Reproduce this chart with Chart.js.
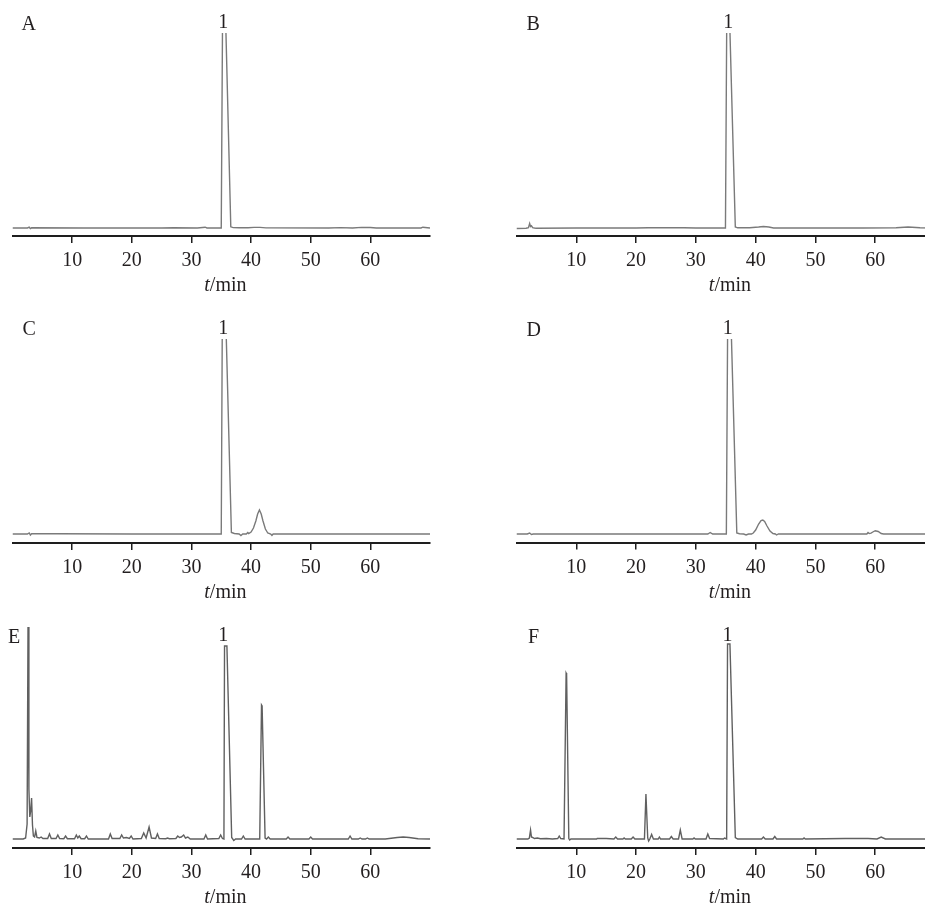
<!DOCTYPE html>
<html>
<head>
<meta charset="utf-8">
<script src="https://cdn.jsdelivr.net/npm/chart.js@4/dist/chart.umd.min.js"></script>
<style>
html, body { margin: 0; padding: 0; background: #fff; overflow: hidden; }
body { width: 925px; height: 904px; position: relative; }
canvas { position: absolute; }
</style>
</head>
<body>
<canvas id="cA"></canvas>
<canvas id="cB"></canvas>
<canvas id="cC"></canvas>
<canvas id="cD"></canvas>
<canvas id="cE"></canvas>
<canvas id="cF"></canvas>
<script>
// chromatogram traces, t in min, signal in arbitrary units (baseline = 0)
const panelIds = ['A', 'B', 'C', 'D', 'E', 'F'];
const peakLabels = ['1', '1', '1', '1', '1', '1'];
const peakLabelTimes = [35.35, 35.4, 35.35, 35.35, 35.35, 35.3];
const tickValues = [10, 20, 30, 40, 50, 60];

const timeA = [0, 2.5, 2.8, 3.0, 3.2, 12, 25, 27, 31, 32.3, 32.6, 35.0, 35.25, 35.6, 36.6, 37.0, 38.0, 39.5, 40.5, 41.5, 42.5, 53, 55, 57, 58.5, 60, 61, 68.5, 68.8, 70];
const signalA = [0, 0, 0.8, -0.6, 0.2, 0, 0, 0.3, 0, 0.8, 0, 0, 240, 240, 1.2, 0.4, 0.2, 0.3, 0.6, 0.6, 0.1, 0, 0.4, 0, 0.6, 0.5, 0, 0, 0.8, 0];

const timeB = [0, 1.6, 2.0, 2.2, 2.35, 2.5, 2.7, 3.0, 3.3, 10, 20, 22, 25, 28, 30, 34.95, 35.2, 35.5, 36.6, 37.0, 39.0, 40.5, 41.3, 42.2, 43.0, 58, 63.5, 65.5, 67.5, 70];
const signalB = [-0.5, -0.3, 0.3, 4.5, 1.5, 2.2, 0.4, 0, -0.3, 0, 0, 0.3, 0.2, 0.3, 0, 0, 240, 240, 1, 0.2, 0.3, 1, 1.5, 1, 0, 0, 0.2, 1, 0.2, 0];

const timeC = [0, 2.5, 2.8, 3.0, 3.2, 7.5, 20, 30, 34.9, 35.0, 35.2, 35.65, 36.7, 37.2, 38.0, 38.3, 38.6, 39.2, 39.45, 39.6, 40.0, 40.4, 40.8, 41.1, 41.4, 41.7, 42.0, 42.4, 42.8, 43.3, 43.5, 43.7, 50, 60, 70];
const signalC = [0, 0, 1, -1, 0.3, 0.3, 0, 0, 0, 0, 240, 240, 1.5, 0.5, 0, -1.5, 0, 0, 1.5, 0.5, 2, 6, 13, 20, 24, 20, 13, 5, 1, 0, -1.5, 0, 0, 0, 0];

const timeD = [0, 1.8, 2.2, 2.5, 2.8, 10, 20, 32.0, 32.4, 32.8, 35.1, 35.35, 35.75, 36.85, 37.3, 38.0, 38.4, 38.8, 39.3, 39.6, 40.0, 40.5, 40.9, 41.2, 41.5, 41.9, 42.4, 42.9, 43.3, 43.5, 43.8, 58.6, 58.8, 59.0, 59.3, 59.6, 60.0, 60.5, 61.0, 61.4, 70];
const signalD = [0, 0, 1, -0.5, 0, 0, 0, 0, 1.5, 0, 0, 240, 240, 1, 0.3, 0, -1, 0, 0, 1, 4, 10, 13.5, 14, 12.5, 8, 3, 0.5, 0, -1, 0, 0, 1.5, 0.5, 0.8, 2, 3.3, 2.5, 0.5, 0, 0];

const timeE = [0, 1.8, 2.2, 2.45, 2.6, 2.75, 2.9, 3.05, 3.2, 3.35, 3.5, 3.7, 3.9, 4.1, 4.5, 4.8, 5.1, 5.9, 6.2, 6.5, 7.3, 7.6, 7.9, 8.6, 8.9, 9.2, 10.4, 10.7, 10.95, 11.2, 11.5, 12.1, 12.4, 12.7, 16.1, 16.4, 16.7, 18.0, 18.3, 18.6, 19.1, 19.6, 19.9, 20.2, 21.6, 22.0, 22.4, 22.9, 23.3, 24.0, 24.3, 24.6, 25.7, 26.0, 26.3, 27.4, 27.7, 28.0, 28.3, 28.7, 29.0, 29.4, 29.8, 32.1, 32.4, 32.7, 34.6, 34.9, 35.2, 35.45, 35.55, 35.95, 36.75, 37.1, 37.4, 38.4, 38.7, 39.0, 41.45, 41.75, 41.85, 42.35, 42.6, 42.9, 43.2, 45.9, 46.2, 46.5, 49.7, 50.0, 50.3, 56.3, 56.6, 56.9, 58.0, 58.3, 58.6, 59.2, 59.5, 59.8, 62.5, 64.5, 65.5, 66.5, 68, 70];
const signalE = [0, 0, 1, 15, 212, 50, 22, 28, 41, 14, 3, 2, 8, 1.5, 1, 2, 0.5, 0.5, 5, 0.5, 0.5, 4, 0.5, 0.3, 3, 0.3, 0.3, 4, 1, 3, 0.3, 0.3, 3, 0, 0, 5, 0.5, 0.5, 4, 1, 1.5, 0.5, 3, 0, 0.5, 6, 1, 12, 1, 0.5, 5, 0.5, 0.3, 1, 0.3, 0.5, 3, 1.5, 2, 4, 1, 2, 0, 0, 4, 0, 0.5, 4, 0.5, 0, 193, 193, 1.5, -1.5, 0, 0, 3, 0, 0, 134, 133, 1, 0, 2, 0, 0, 2, 0, 0, 2, 0, 0, 3, 0, 0, 1, 0, 0, 1, 0, 0, 1.5, 2, 1.5, 0.3, 0];

const timeF = [0, 1.9, 2.15, 2.35, 2.5, 2.7, 3.0, 3.5, 4.0, 5.0, 6.0, 6.9, 7.15, 7.4, 7.95, 8.3, 8.38, 8.75, 8.9, 9.1, 13.4, 13.5, 15.0, 16.3, 16.6, 16.9, 17.8, 18.0, 18.2, 19.2, 19.5, 19.8, 21.4, 21.65, 21.95, 22.1, 22.3, 22.6, 22.9, 23.7, 23.9, 24.1, 25.6, 25.9, 26.2, 27.1, 27.4, 27.7, 29.5, 29.7, 29.9, 31.7, 32.0, 32.3, 34.6, 34.8, 35.15, 35.3, 35.7, 36.6, 37.0, 41.0, 41.3, 41.6, 42.9, 43.2, 43.5, 47.9, 48.1, 48.3, 55, 57, 58.8, 60.3, 61.0, 61.7, 70];
const signalF = [0, 0, 1, 9, 2, 1.5, 0.5, 1, 0.3, 0.5, 0, 0.5, 3, 0.5, 0, 166, 165, 0.5, -1, 0, 0, 0.5, 0.5, 0, 2, 0, 0, 1, 0, 0, 2, 0, 0, 45, 1, -2, 0, 4.5, 0, 0, 2, 0, 0, 2.5, 0, 0, 9, 0, 0, 1, 0, 0, 5, 0.5, 0, 1, 0, 195, 195, 1.5, 0, 0, 2, 0, 0, 2.5, 0, 0, 1, 0, 0.5, 0.5, 0.5, 0, 2, 0, 0];

const traces = {
    A: [timeA, signalA], B: [timeB, signalB], C: [timeC, signalC],
    D: [timeD, signalD], E: [timeE, signalE], F: [timeF, signalF]
};

// page layout of each panel (pixels)
const frames = {
    A: { left: 0, top: 0, w: 460, h: 300, plotLeft: 12.5, plotRight: 430, plotTop: 33, axisY: 236, yMin: -8, yMax: 195, letterX: 21.5, letterY: 30, peakY: 28, line: '#7a7a7a' },
    B: { left: 460, top: 0, w: 480, h: 300, plotLeft: 516.5, plotRight: 935, plotTop: 33, axisY: 236, yMin: -8, yMax: 195, letterX: 526.5, letterY: 30, peakY: 28, line: '#7a7a7a' },
    C: { left: 0, top: 300, w: 460, h: 300, plotLeft: 12.5, plotRight: 430, plotTop: 339, axisY: 543, yMin: -9, yMax: 195, letterX: 22.5, letterY: 335, peakY: 333.5, line: '#7a7a7a' },
    D: { left: 460, top: 300, w: 480, h: 300, plotLeft: 516.5, plotRight: 935, plotTop: 339, axisY: 542.5, yMin: -8.5, yMax: 195, letterX: 526.5, letterY: 335.5, peakY: 334, line: '#7a7a7a' },
    E: { left: 0, top: 600, w: 460, h: 304, plotLeft: 12.5, plotRight: 430, plotTop: 627, axisY: 848, yMin: -9, yMax: 212, letterX: 8, letterY: 643, peakY: 641, line: '#606060' },
    F: { left: 460, top: 600, w: 480, h: 304, plotLeft: 516.5, plotRight: 935, plotTop: 627, axisY: 848, yMin: -9, yMax: 212, letterX: 528, letterY: 643, peakY: 641, line: '#606060' }
};

const textColor = '#231f20';
const serif = '"Liberation Serif", "Times New Roman", serif';

// panel letter, peak label and the t/min axis title
const panelText = {
    id: 'panelText',
    afterDraw(chart, args, opts) {
        const ctx = chart.ctx;
        const xs = chart.scales.x;
        const f = opts.frame;
        ctx.save();
        ctx.fillStyle = textColor;
        ctx.textBaseline = 'alphabetic';
        ctx.font = '20px ' + serif;
        ctx.textAlign = 'left';
        ctx.fillText(opts.letter, f.letterX - f.left, f.letterY - f.top);
        ctx.textAlign = 'center';
        ctx.fillText(opts.peakLabel, xs.getPixelForValue(opts.peakT), f.peakY - f.top);

        const y = chart.chartArea.bottom + 55;
        const cx = xs.getPixelForValue(35.7);
        ctx.font = 'italic 20px ' + serif;
        const w1 = ctx.measureText('t').width;
        ctx.font = '20px ' + serif;
        const w2 = ctx.measureText('/min').width;
        ctx.textAlign = 'left';
        const x0 = cx - (w1 + w2) / 2;
        ctx.font = 'italic 20px ' + serif;
        ctx.fillText('t', x0, y);
        ctx.font = '20px ' + serif;
        ctx.fillText('/min', x0 + w1, y);
        ctx.restore();
    }
};

function makePanel(id, idx) {
    const f = frames[id];
    const canvas = document.getElementById('c' + id);
    canvas.width = f.w;
    canvas.height = f.h;
    canvas.style.left = f.left + 'px';
    canvas.style.top = f.top + 'px';
    canvas.style.width = f.w + 'px';
    canvas.style.height = f.h + 'px';

    const [t, s] = traces[id];
    const points = t.map((v, i) => ({ x: v, y: s[i] }));

    new Chart(canvas, {
        type: 'line',
        data: {
            datasets: [{
                data: points,
                borderColor: f.line,
                borderWidth: 1.4,
                pointRadius: 0,
                tension: 0,
                fill: false
            }]
        },
        options: {
            responsive: false,
            animation: false,
            events: [],
            layout: {
                padding: {
                    left: f.plotLeft - f.left,
                    right: f.left + f.w - f.plotRight,
                    top: f.plotTop - f.top,
                    bottom: 0
                }
            },
            scales: {
                x: {
                    type: 'linear',
                    min: 0,
                    max: 70,
                    border: { display: true, color: '#1e1e1e', width: 2 },
                    grid: { display: true, drawOnChartArea: false, drawTicks: true, tickLength: 7, color: '#1e1e1e', lineWidth: 1.5 },
                    ticks: { color: textColor, font: { family: serif, size: 20 }, padding: 6, maxRotation: 0, autoSkip: false },
                    afterBuildTicks: sc => { sc.ticks = tickValues.map(v => ({ value: v })); },
                    afterFit: sc => { sc.height = f.top + f.h - f.axisY; }
                },
                y: { display: false, min: f.yMin, max: f.yMax }
            },
            plugins: {
                legend: { display: false },
                tooltip: { enabled: false },
                panelText: { frame: f, letter: id, peakLabel: peakLabels[idx], peakT: peakLabelTimes[idx] }
            }
        },
        plugins: [panelText]
    });
}

panelIds.forEach(makePanel);
</script>
</body>
</html>
